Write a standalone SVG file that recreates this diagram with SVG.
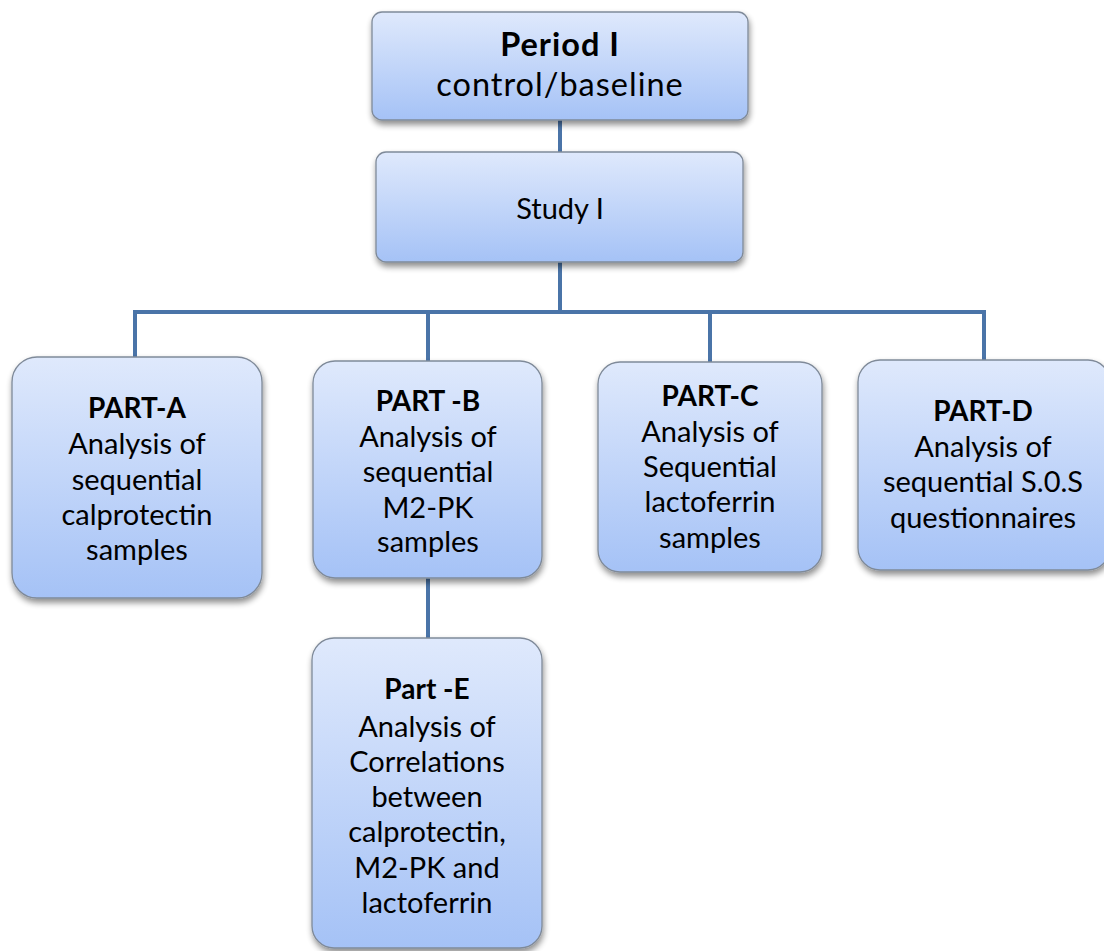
<svg xmlns="http://www.w3.org/2000/svg" width="1104" height="951" viewBox="0 0 1104 951">
<defs>
<linearGradient id="g" x1="0" y1="0" x2="0" y2="1">
<stop offset="0" stop-color="#dfe9fc"/>
<stop offset="1" stop-color="#a5c2f6"/>
</linearGradient>
<filter id="sh" x="-10%" y="-10%" width="120%" height="130%">
<feGaussianBlur in="SourceAlpha" stdDeviation="3"/>
<feOffset dx="1" dy="4" result="b"/>
<feComponentTransfer><feFuncA type="linear" slope="0.45"/></feComponentTransfer>
<feMerge><feMergeNode/><feMergeNode in="SourceGraphic"/></feMerge>
</filter>
</defs>
<style>
.box{fill:url(#g);stroke:#7f8a99;stroke-width:1.3;filter:url(#sh)}
.t{font-family:Lato,"Liberation Sans",sans-serif;font-size:29px;fill:#000;text-anchor:middle}
.b{font-weight:bold;font-size:28px}
.p{font-size:32.5px;letter-spacing:1px}
.c{fill:none;stroke:#4a74a8;stroke-width:4}
</style>
<rect width="1104" height="951" fill="#fff"/>
<g id="connectors">
<path class="c" d="M560 120V152M560 262V312M135 312H985M135 310V357M428 312V361M710 312V362M984 310V360M428 578V638"/>
</g>
<g id="period">
<rect class="box" x="372" y="12" width="376" height="108" rx="10"/>
<text class="t b p" x="560" y="56">Period I</text>
<text class="t p" x="560" y="96">control/baseline</text>
</g>
<g id="study">
<rect class="box" x="376" y="152" width="367" height="110" rx="10"/>
<text class="t" x="560" y="219">Study I</text>
</g>
<g id="partA">
<rect class="box" x="12" y="357" width="250" height="241" rx="25"/>
<text class="t b" x="137" y="418">PART-A</text>
<text class="t" x="137" y="454">Analysis of</text>
<text class="t" x="137" y="490">sequential</text>
<text class="t" x="137" y="525">calprotectin</text>
<text class="t" x="137" y="560">samples</text>
</g>
<g id="partB">
<rect class="box" x="313" y="361" width="229" height="217" rx="22"/>
<text class="t b" x="428" y="411">PART -B</text>
<text class="t" x="428" y="447">Analysis of</text>
<text class="t" x="428" y="482">sequential</text>
<text class="t" x="428" y="518">M2-PK</text>
<text class="t" x="428" y="552">samples</text>
</g>
<g id="partC">
<rect class="box" x="598" y="362" width="224" height="210" rx="22"/>
<text class="t b" x="710" y="406">PART-C</text>
<text class="t" x="710" y="442">Analysis of</text>
<text class="t" x="710" y="477">Sequential</text>
<text class="t" x="710" y="512">lactoferrin</text>
<text class="t" x="710" y="548">samples</text>
</g>
<g id="partD">
<rect class="box" x="858" y="360" width="252" height="210" rx="22"/>
<text class="t b" x="983" y="421">PART-D</text>
<text class="t" x="983" y="457">Analysis of</text>
<text class="t" x="983" y="492">sequential S.0.S</text>
<text class="t" x="983" y="528">questionnaires</text>
</g>
<g id="partE">
<rect class="box" x="312" y="638" width="230" height="310" rx="22"/>
<text class="t b" x="427" y="699">Part -E</text>
<text class="t" x="427" y="737">Analysis of</text>
<text class="t" x="427" y="772">Correlations</text>
<text class="t" x="427" y="807">between</text>
<text class="t" x="427" y="842">calprotectin,</text>
<text class="t" x="427" y="878">M2-PK and</text>
<text class="t" x="427" y="913">lactoferrin</text>
</g>
</svg>
